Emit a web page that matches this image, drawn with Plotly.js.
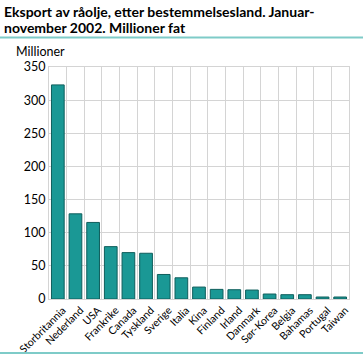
<!DOCTYPE html>
<html>
<head>
<meta charset="utf-8">
<script src="https://cdn.plot.ly/plotly-3.0.1.min.js"></script>
<style>html,body{margin:0;padding:0;background:#fff;}#chart{width:363px;height:357px;}</style>
</head>
<body>
<div id="chart"></div>
<script>
const countries = ["Storbritannia","Nederland","USA","Frankrike","Canada","Tyskland","Sverige","Italia","Kina","Finland","Irland","Danmark","Sør-Korea","Belgia","Bahamas","Portugal","Taiwan"];
const exportMillions = [323, 128.5, 115.5, 79, 70, 69, 37, 32, 18, 14.5, 14, 13.5, 7.5, 6.5, 6.5, 3, 3];
const yTicks = [0, 50, 100, 150, 200, 250, 300, 350];
const titleLines = ["Eksport av råolje, etter bestemmelsesland. Januar-", "november 2002. Millioner fat"];
const yUnit = "Millioner";

const font = "Lato, 'Open Sans', 'DejaVu Sans', sans-serif";
const py = v => (299 - v) / 232;
const px = v => (v - 49) / 300;
const trace = {
  type: "bar",
  x: countries,
  y: exportMillions,
  marker: {color: "#1a9895", line: {color: "#0f5e5c", width: 1}},
  hoverinfo: "x+y"
};
const layout = {
  width: 363, height: 357,
  margin: {l: 49, r: 14, t: 67, b: 58},
  paper_bgcolor: "#fff", plot_bgcolor: "#fff",
  font: {family: font, size: 12, color: "#000"},
  showlegend: false,
  bargap: 0.28,
  xaxis: {
    type: "category", tickson: "boundaries", tickangle: -45,
    showgrid: true, gridcolor: "#d4d4d4", gridwidth: 1,
    showline: true, linecolor: "#d4d4d4", mirror: true,
    ticks: "", tickfont: {size: 10.6, family: font}, automargin: false,
    ticklabelshift: 5, ticklabelstandoff: 0
  },
  yaxis: {
    range: [0, 350], tickvals: yTicks, ticktext: yTicks.map(String),
    showgrid: true, gridcolor: "#d4d4d4", gridwidth: 1,
    showline: true, linecolor: "#d4d4d4", mirror: true, zeroline: false,
    ticks: "", tickfont: {size: 12.5, family: font}, automargin: false
  },
  annotations: [
    {xref: "paper", yref: "paper", x: px(2), y: py(11.5), xanchor: "left", yanchor: "middle",
     text: "<b>" + titleLines[0] + "</b>", showarrow: false,
     font: {size: 14, family: font, color: "#000"}},
    {xref: "paper", yref: "paper", x: px(2), y: py(27.5), xanchor: "left", yanchor: "middle",
     text: "<b>" + titleLines[1] + "</b>", showarrow: false,
     font: {size: 14, family: font, color: "#000"}},
    {xref: "paper", yref: "paper", x: px(14), y: py(51), xanchor: "left", yanchor: "middle",
     text: yUnit, showarrow: false, font: {size: 12.5, family: font, color: "#000"}}
  ],
  shapes: [
    {type: "line", xref: "paper", yref: "paper", x0: px(0), x1: px(363), y0: py(37.5), y1: py(37.5),
     line: {color: "#7ecbc8", width: 2}},
    {type: "line", xref: "paper", yref: "paper", x0: px(0), x1: px(363), y0: py(353), y1: py(353),
     line: {color: "#7ecbc8", width: 2}}
  ]
};
Plotly.newPlot("chart", [trace], layout, {displayModeBar: false, staticPlot: true});
</script>
</body>
</html>
